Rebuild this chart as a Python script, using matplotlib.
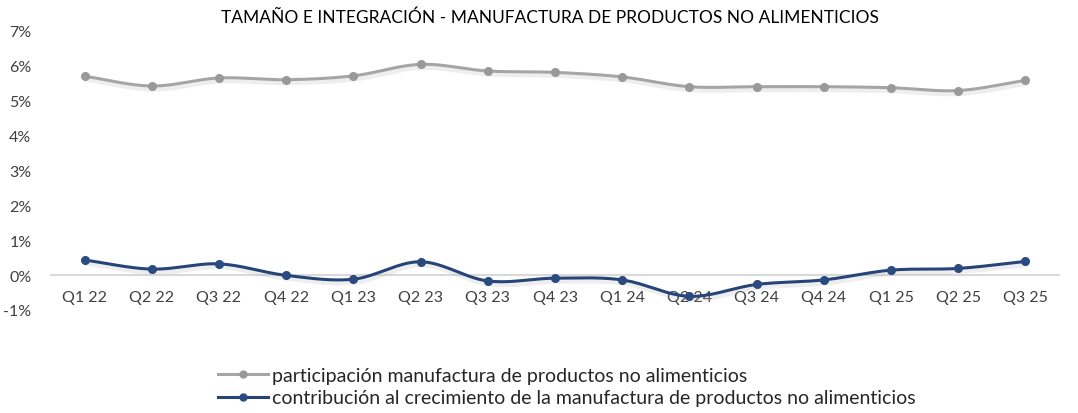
import matplotlib.pyplot as plt
import matplotlib.patheffects as pe
import numpy as np

plt.rcParams['font.family'] = ['Lato', 'DejaVu Sans']

trimestres = ["Q1 22", "Q2 22", "Q3 22", "Q4 22", "Q1 23", "Q2 23", "Q3 23",
              "Q4 23", "Q1 24", "Q2 24", "Q3 24", "Q4 24", "Q1 25", "Q2 25", "Q3 25"]
participacion = [5.70, 5.42, 5.65, 5.60, 5.71, 6.04, 5.85, 5.81, 5.68, 5.40,
                 5.40, 5.40, 5.37, 5.29, 5.58]
contribucion = [0.43, 0.17, 0.32, -0.01, -0.12, 0.38, -0.17, -0.09, -0.14, -0.61,
                -0.27, -0.14, 0.14, 0.19, 0.39]

titulo = "TAMAÑO E INTEGRACIÓN - MANUFACTURA DE PRODUCTOS NO ALIMENTICIOS"
etiqueta_part = "participación manufactura de productos no alimenticios"
etiqueta_contrib = "contribución al crecimiento de la manufactura de productos no alimenticios"


def suavizar(x, y, n=20):
    # curva tipo Catmull-Rom (como el "suavizado" de Excel)
    x = np.asarray(x, float)
    y = np.asarray(y, float)
    px = np.concatenate([[2 * x[0] - x[1]], x, [2 * x[-1] - x[-2]]])
    py = np.concatenate([[2 * y[0] - y[1]], y, [2 * y[-1] - y[-2]]])
    xs, ys = [], []
    t = np.linspace(0, 1, n, endpoint=False)
    for i in range(1, len(px) - 2):
        for p, out in ((px, xs), (py, ys)):
            p0, p1, p2, p3 = p[i - 1], p[i], p[i + 1], p[i + 2]
            out.extend(0.5 * (2 * p1 + (-p0 + p2) * t
                              + (2 * p0 - 5 * p1 + 4 * p2 - p3) * t ** 2
                              + (-p0 + 3 * p1 - 3 * p2 + p3) * t ** 3))
    xs.append(x[-1])
    ys.append(y[-1])
    return np.array(xs), np.array(ys)


gris = '#a5a5a5'
azul = '#264478'
sombra = [pe.SimpleLineShadow(offset=(1, -2.5), shadow_color='#aaaaaa', alpha=0.2, linewidth=3), pe.Normal()]

fig = plt.figure(figsize=(10.78, 4.14), dpi=100)
ax = fig.add_axes([0.0473, 0.249, 0.9351, 0.674])

x = np.arange(len(trimestres))
for valores, color, mcolor, etiqueta in ((participacion, gris, '#999999', etiqueta_part),
                                          (contribucion, azul, '#2a4a80', etiqueta_contrib)):
    sx, sy = suavizar(x, valores)
    ax.plot(sx, sy, color=color, lw=2.2, solid_capstyle='round', path_effects=sombra, zorder=3)
    ax.plot(x, valores, ls='none', marker='o', ms=5.5, mfc=mcolor, mec=mcolor, zorder=4)
    ax.plot([], [], color=color, lw=2.2, marker='o', ms=5, mfc=mcolor, mec=mcolor, label=etiqueta)

ax.set_xlim(-0.5, len(trimestres) - 0.5)
ax.set_ylim(-1, 7)
ax.set_yticks(range(-1, 8))
ax.set_yticklabels([f"{v}%" for v in range(-1, 8)])
ax.set_xticks(x)
ax.set_xticklabels(trimestres)

for s in ['top', 'right', 'left']:
    ax.spines[s].set_visible(False)
ax.spines['bottom'].set_position(('data', 0))
ax.spines['bottom'].set_color('#d9d9d9')
ax.spines['bottom'].set_linewidth(1.5)
ax.spines['bottom'].set_zorder(1)
ax.tick_params(axis='x', length=0, pad=11, labelsize=11.5, labelcolor='#404040')
ax.tick_params(axis='y', length=0, pad=14, labelsize=11.5, labelcolor='#404040')
for lbl in ax.get_yticklabels():
    lbl.set_horizontalalignment('right')

fig.text(0.5105, 0.958, titulo, ha='center', va='center', fontsize=12.5, color='black')

fig.legend(loc='upper left', bbox_to_anchor=(0.202, 0.112), frameon=False,
           fontsize=14, handlelength=2.6, handletextpad=0.2, labelspacing=0.3,
           borderaxespad=0, borderpad=0, labelcolor='#262626')

fig.savefig('out.png', dpi=100)
